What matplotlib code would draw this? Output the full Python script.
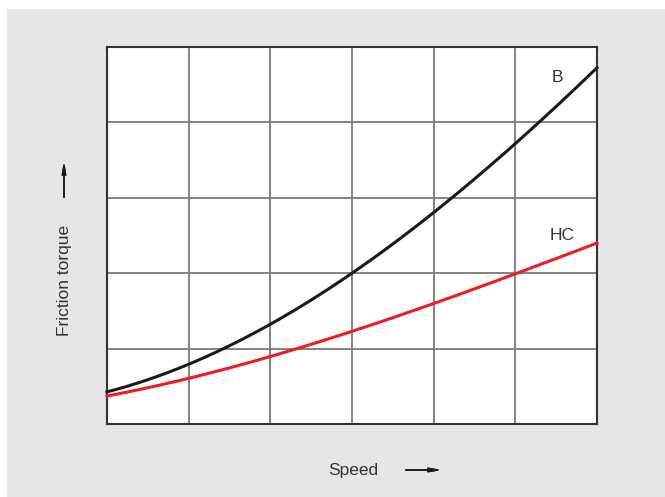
import numpy as np
import matplotlib.pyplot as plt
from matplotlib.patches import Rectangle

plt.rcParams["font.family"] = ["Liberation Sans", "DejaVu Sans"]

speed = [0, 1, 2, 3, 4, 5, 6]
torque_b = [0.42, 0.81, 1.31, 2.0, 2.80, 3.73, 4.72]
torque_hc = [0.37, 0.61, 0.89, 1.23, 1.60, 1.99, 2.40]

W, H = 665, 497
fig = plt.figure(figsize=(W / 100, H / 100), dpi=100, facecolor="white")
fig.patches.append(Rectangle((7 / W, 0), 1, 1 - 9 / H, transform=fig.transFigure,
                             facecolor="#e6e6e6", edgecolor="none", zorder=-1))

ax = fig.add_axes([107 / W, 1 - 424 / H, 490 / W, 377 / H])
ax.set_facecolor("white")

# smooth curves through the read points
xs = np.linspace(0, 6, 200)
b_fit = np.polyval(np.polyfit(speed, torque_b, 3), xs)
hc_fit = np.polyval(np.polyfit(speed, torque_hc, 3), xs)
ax.plot(xs, b_fit, color="#1a1a1a", lw=2.2, zorder=3, clip_on=False)
ax.plot(xs, hc_fit, color="#ee1c25", lw=2.2, zorder=3, clip_on=False)

ax.set_xlim(0, 6)
ax.set_ylim(0, 5)
ax.set_xticks(range(7))
ax.set_yticks(range(6))
ax.grid(True, color="#7a7a7a", lw=1.3)
ax.tick_params(length=0, labelbottom=False, labelleft=False)
for s in ax.spines.values():
    s.set_color("#333333")
    s.set_linewidth(1.5)

ax.text(5.52, 4.6, "B", fontsize=12.5, color="#333333", ha="center", va="center")
ax.text(5.57, 2.5, "HC", fontsize=12.5, color="#333333", ha="center", va="center")

fig.text(353 / W, 1 - 470 / H, "Speed", fontsize=12.5, color="#333333", ha="center", va="center")
fig.text(64 / W, 1 - 280 / H, "Friction torque", fontsize=12.5, color="#333333",
         ha="center", va="center", rotation=90)
fig.add_artist(plt.annotate("", xy=(445 / W, 1 - 470 / H), xytext=(403 / W, 1 - 470 / H),
                            xycoords="figure fraction",
                            arrowprops=dict(arrowstyle="-|>,head_length=0.7,head_width=0.12",
                                            color="#1a1a1a", lw=1.1)))
fig.add_artist(plt.annotate("", xy=(64 / W, 1 - 158 / H), xytext=(64 / W, 1 - 200 / H),
                            xycoords="figure fraction",
                            arrowprops=dict(arrowstyle="-|>,head_length=0.7,head_width=0.12",
                                            color="#1a1a1a", lw=1.1)))

fig.savefig("out.png", dpi=100)
